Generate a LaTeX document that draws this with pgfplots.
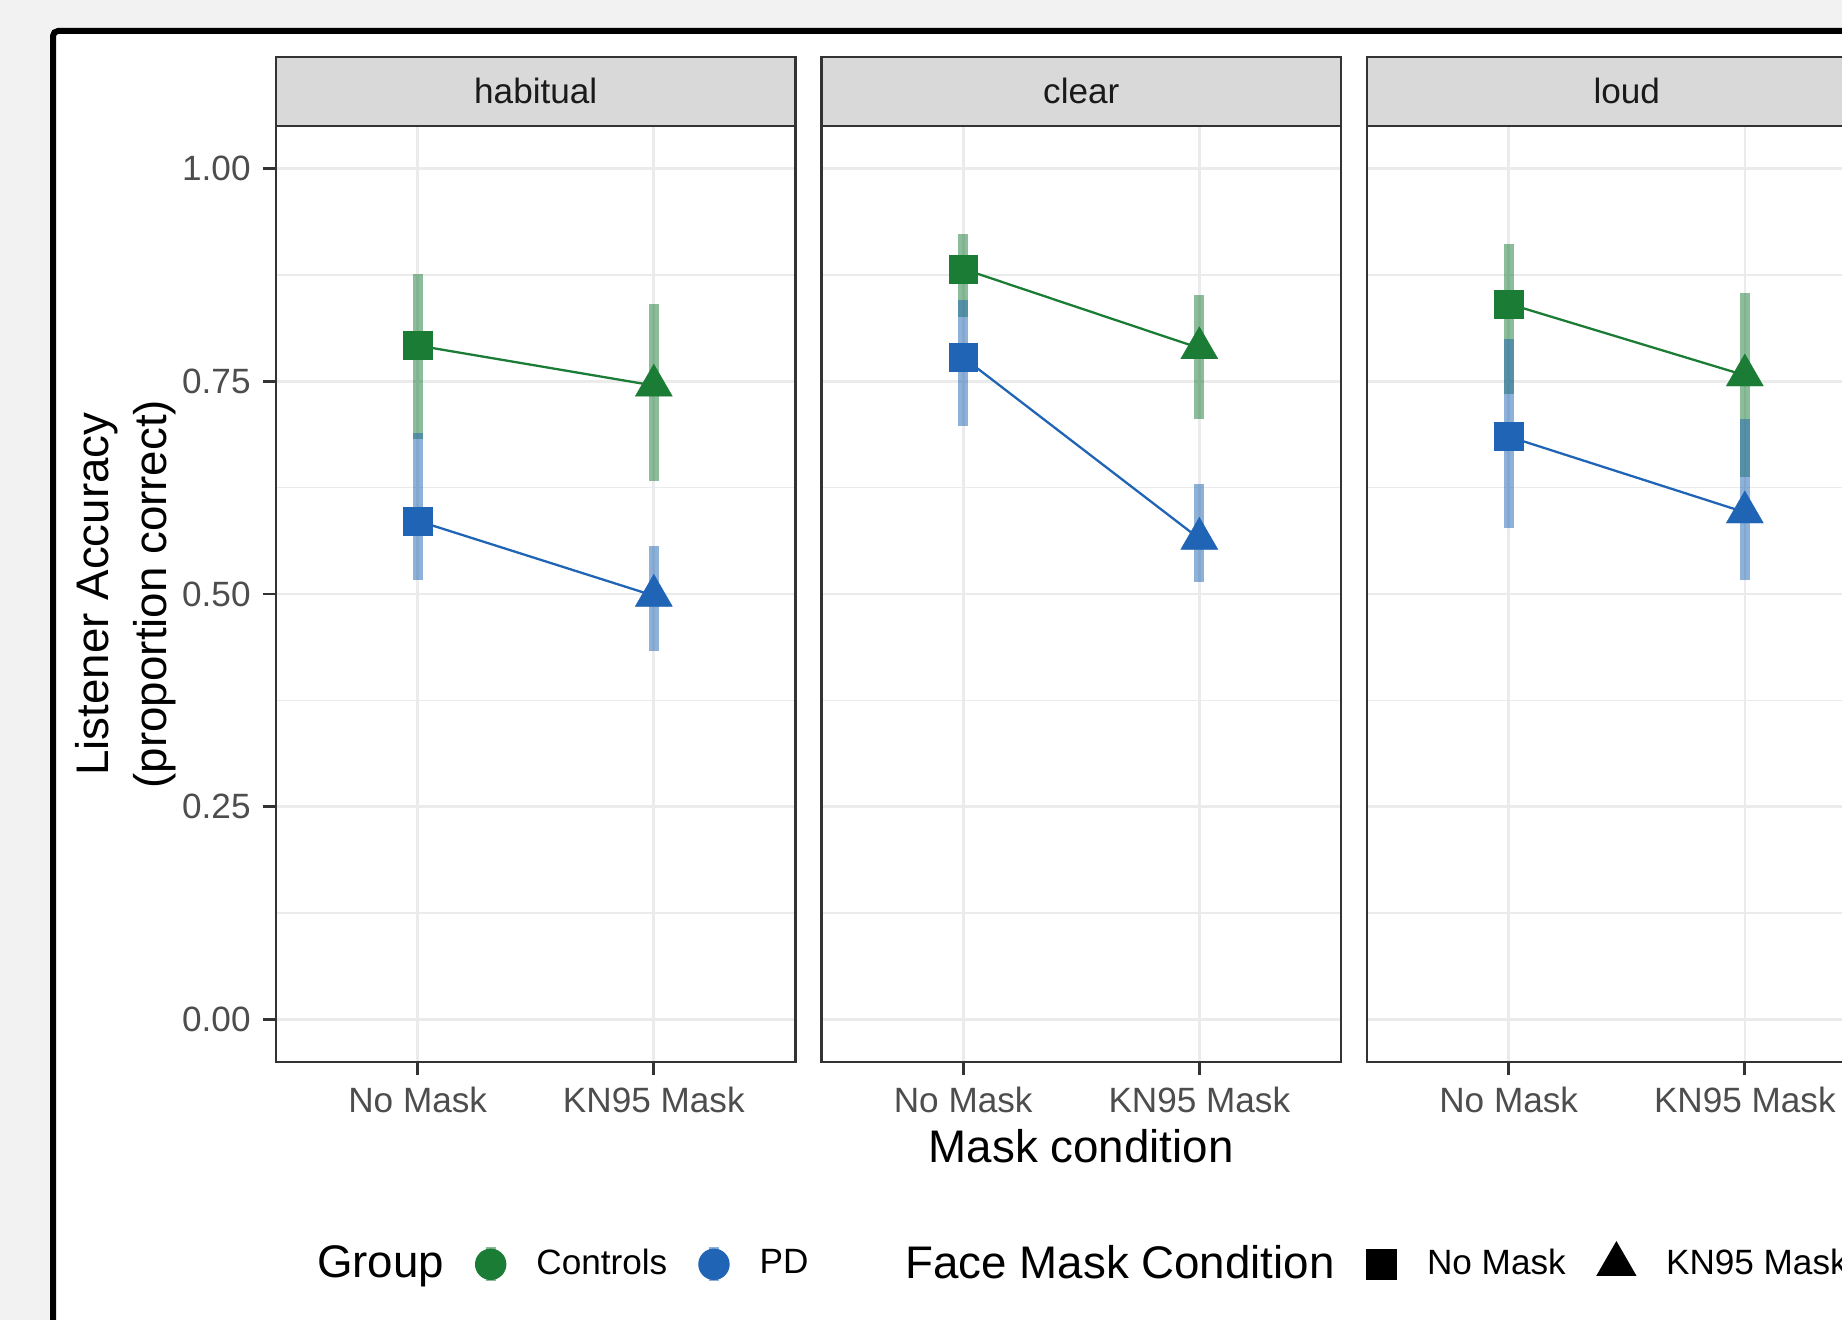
\documentclass[border=0pt]{standalone}
\usepackage{fontspec}
\setmainfont{Liberation Sans}
\usepackage{pgfplots}
\pgfplotsset{compat=1.18}
\definecolor{cgreen}{RGB}{27,124,54}
\definecolor{cblue}{RGB}{31,100,181}
\definecolor{cbg}{RGB}{242,242,242}
\definecolor{cgrid}{RGB}{235,235,235}
\definecolor{cborder}{RGB}{51,51,51}
\definecolor{ctick}{RGB}{77,77,77}
\definecolor{cstrip}{RGB}{217,217,217}
\definecolor{cstriptext}{RGB}{26,26,26}
\pgfplotsset{
  panel/.style={
    scale only axis, width=5.195cm, height=9.36cm,
    anchor=south west,
    xmin=0.4, xmax=2.6, ymin=-0.05, ymax=1.05,
    xtick={1,2}, xticklabels={No Mask, KN95 Mask},
    ytick={0,0.25,0.5,0.75,1},
    minor ytick={0.125,0.375,0.625,0.875},
    xmajorgrids, ymajorgrids, yminorgrids,
    major grid style={draw=cgrid, line width=0.75pt},
    minor grid style={draw=cgrid, line width=0.4pt},
    axis line style={draw=cborder, line width=0.6pt},
    tick align=outside, major tick length=0.13cm, minor tick length=0pt,
    major tick style={draw=cborder, line width=0.8pt},
    xtick pos=bottom, ytick pos=left,
    tick label style={font=\fontsize{10}{12}\selectfont, text=ctick},
    unbounded coords=jump,
    /pgf/number format/assume math mode=true,
  },
  ebar/.style={forget plot, mark=none, line width=2.85pt, draw opacity=0.5},
  conn/.style={forget plot, mark=none, line width=0.65pt},
  sq/.style={forget plot, only marks, mark=square*, mark size=4.0pt, mark options={draw=#1, fill=#1, line width=0.1pt}},
  tri/.style={forget plot, only marks, mark=triangle*, mark size=6.1pt, mark options={draw=#1, fill=#1, line width=0.1pt}},
}
\begin{document}
\begin{tikzpicture}
\useasboundingbox (0,0) rectangle (18.42,-13.2);
\clip (0,0) rectangle (18.42,-13.2);
\fill[cbg] (0,0) rectangle (18.42,-13.2);
\filldraw[fill=white, draw=black, line width=0.06cm, rounded corners=0.05cm] (0.53,-0.31) rectangle (19.5,-14);
% strips
\foreach \xl/\lab in {2.76/habitual, 8.215/clear, 13.67/loud}{
  \filldraw[fill=cstrip, draw=cborder, line width=0.6pt] (\xl,-0.567) rectangle ({\xl+5.195},-1.26);
  \node[font=\fontsize{10}{12}\selectfont, text=cstriptext, anchor=base] at ({\xl+2.5975},-1.035) {\lab};
}
% panel 1: habitual
\begin{axis}[panel, at={(2.76cm,-10.62cm)},
  yticklabels={0.00,0.25,0.50,0.75,1.00},
  ylabel={Listener Accuracy\\(proportion correct)},
  ylabel style={font=\fontsize{13}{16.5}\selectfont, align=center, at={(axis description cs:-0.2887,0.5)}, anchor=center},
  legend columns=-1,
  legend cell align=left,
  legend style={draw=none, fill=none, inner sep=0pt, outer sep=0pt,
    at={(axis description cs:0.0212,-0.2158)}, anchor=west,
    font=\fontsize{10}{12}\selectfont, nodes={inner sep=0pt},
    /tikz/every odd column/.append style={column sep=0.30cm},
    /tikz/every even column/.append style={column sep=0.31cm}},
]
\addplot[ebar, cgreen] coordinates {(1,0.682) (1,0.876) (nan,nan) (2,0.633) (2,0.841)};
\addplot[ebar, cblue] coordinates {(1,0.516) (1,0.689) (nan,nan) (2,0.433) (2,0.556)};
\addplot[conn, cgreen] coordinates {(1,0.792) (2,0.745)};
\addplot[conn, cblue] coordinates {(1,0.586) (2,0.498)};
\addplot[sq=cgreen] coordinates {(1,0.792)};
\addplot[sq=cblue] coordinates {(1,0.586)};
\addplot[tri=cgreen] coordinates {(2,0.745)};
\addplot[tri=cblue] coordinates {(2,0.498)};
\addlegendimage{empty legend}
\addlegendentry{\fontsize{13}{15}\selectfont Group}
\addlegendimage{legend image code/.code={\draw[cgreen, draw opacity=0.5, line width=2.85pt] (0cm,-0.17cm) -- (0cm,0.17cm); \fill[cgreen] (0cm,0cm) circle (0.15cm);}}
\addlegendentry{Controls}
\addlegendimage{legend image code/.code={\draw[cblue, draw opacity=0.5, line width=2.85pt] (0cm,-0.17cm) -- (0cm,0.17cm); \fill[cblue] (0cm,0cm) circle (0.15cm);}}
\addlegendentry{PD}
\addlegendimage{empty legend}
\addlegendentry{\hspace*{0.36cm}\fontsize{13}{15}\selectfont Face Mask Condition}
\addlegendimage{legend image code/.code={\fill[black] (-0.15cm,-0.15cm) rectangle (0.15cm,0.15cm);}}
\addlegendentry{No Mask}
\addlegendimage{legend image code/.code={\fill[black] (90:0.219cm) -- (210:0.219cm) -- (330:0.219cm) -- cycle;}}
\addlegendentry{KN95 Mask}
\end{axis}
% panel 2: clear
\begin{axis}[panel, at={(8.215cm,-10.62cm)},
  yticklabels={}, ytick style={draw=none},
  xlabel={Mask condition},
  xlabel style={font=\fontsize{13}{15}\selectfont, at={(axis description cs:0.5,-0.1079)}, anchor=base},
]
\addplot[ebar, cgreen] coordinates {(1,0.826) (1,0.923) (nan,nan) (2,0.706) (2,0.851)};
\addplot[ebar, cblue] coordinates {(1,0.698) (1,0.846) (nan,nan) (2,0.514) (2,0.629)};
\addplot[conn, cgreen] coordinates {(1,0.882) (2,0.789)};
\addplot[conn, cblue] coordinates {(1,0.778) (2,0.565)};
\addplot[sq=cgreen] coordinates {(1,0.882)};
\addplot[sq=cblue] coordinates {(1,0.778)};
\addplot[tri=cgreen] coordinates {(2,0.789)};
\addplot[tri=cblue] coordinates {(2,0.565)};
\end{axis}
% panel 3: loud
\begin{axis}[panel, at={(13.67cm,-10.62cm)},
  yticklabels={}, ytick style={draw=none},
]
\addplot[ebar, cgreen] coordinates {(1,0.735) (1,0.911) (nan,nan) (2,0.637) (2,0.854)};
\addplot[ebar, cblue] coordinates {(1,0.577) (1,0.800) (nan,nan) (2,0.516) (2,0.706)};
\addplot[conn, cgreen] coordinates {(1,0.841) (2,0.757)};
\addplot[conn, cblue] coordinates {(1,0.685) (2,0.596)};
\addplot[sq=cgreen] coordinates {(1,0.841)};
\addplot[sq=cblue] coordinates {(1,0.685)};
\addplot[tri=cgreen] coordinates {(2,0.757)};
\addplot[tri=cblue] coordinates {(2,0.596)};
\end{axis}
\end{tikzpicture}
\end{document}
